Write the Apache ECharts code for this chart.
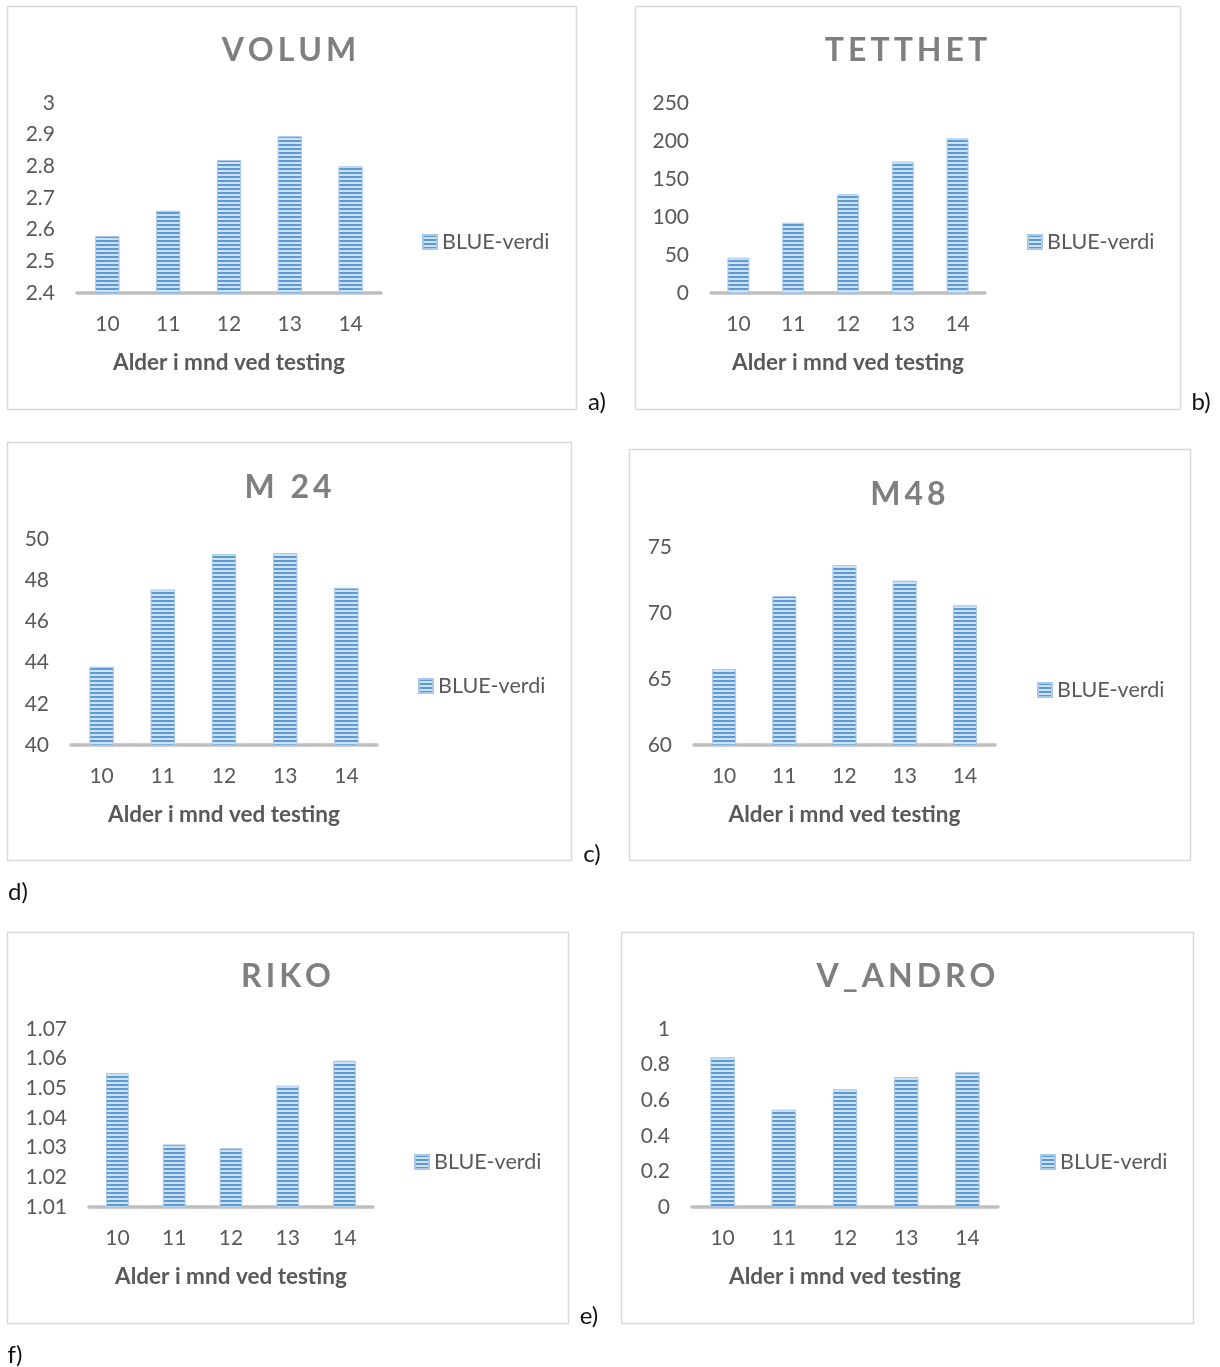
<!DOCTYPE html>
<html>
<head>
<meta charset="utf-8">
<script src="https://cdn.jsdelivr.net/npm/echarts@6/dist/echarts.min.js"></script>
<style>
  html, body { margin: 0; padding: 0; background: #ffffff; }
  #chart { width: 1220px; height: 1367px; }
</style>
</head>
<body>
<div id="chart"></div>
<script>
// Age at testing (months)
const categories = ['10', '11', '12', '13', '14'];

// BLUE values per measure
const volum  = [2.58, 2.66, 2.82, 2.895, 2.80];
const tetthet = [46.5, 92.5, 130, 173, 203.5];
const m24    = [43.8, 47.55, 49.27, 49.32, 47.63];
const m48    = [65.76, 71.29, 73.64, 72.45, 70.58];
const riko   = [1.0552, 1.0311, 1.0298, 1.0509, 1.0593];
const vAndro = [0.841, 0.547, 0.661, 0.730, 0.757];

// Value-axis ticks: [min, max, interval]
const volumTicks  = [2.4, 3, 0.1];
const tetthetTicks = [0, 250, 50];
const m24Ticks    = [40, 50, 2];
const m48Ticks    = [60, 75, 5];
const rikoTicks   = [1.01, 1.07, 0.01];
const vAndroTicks = [0, 1, 0.2];

const titles = ['VOLUM', 'TETTHET', 'M 24', 'M48', 'RIKO', 'V_ANDRO'];
const panelTags = ['a)', 'b)', 'c)', 'd)', 'e)', 'f)'];
const seriesName = 'BLUE-verdi';
const xAxisName = 'Alder i mnd ved testing';

// Horizontal stripe fill for the bars
function stripePattern() {
  const c = document.createElement('canvas');
  c.width = 4; c.height = 4;
  const ctx = c.getContext('2d');
  ctx.fillStyle = '#cfe1f3';
  ctx.fillRect(0, 0, 4, 4);
  ctx.fillStyle = '#5b9bd5';
  ctx.fillRect(0, 0, 4, 2);
  return { image: c, repeat: 'repeat' };
}
const stripes = stripePattern();

// Panel layout: frame, plot area, legend anchor, title and tag positions
const panels = [
  { data: volum,  ticks: volumTicks,  frame: [7, 6, 569, 403],   grid: [77, 103, 304, 190],  legend: [422, 241], title: [289, 51],  tag: [597, 402] },
  { data: tetthet, ticks: tetthetTicks, frame: [635, 6, 545, 403], grid: [711, 103, 274, 190], legend: [1027, 241], title: [906, 51], tag: [1201, 402] },
  { data: m24,    ticks: m24Ticks,    frame: [7, 442, 564, 418], grid: [71, 539, 306, 206],  legend: [418, 685], title: [288, 488], tag: [592, 854] },
  { data: m48,    ticks: m48Ticks,    frame: [629, 449, 561, 411], grid: [694, 547, 301, 198], legend: [1037, 689], title: [908, 495], tag: [18, 892] },
  { data: riko,   ticks: rikoTicks,   frame: [7, 932, 561, 391], grid: [89, 1029, 284, 178], legend: [414, 1161], title: [286, 977], tag: [589, 1316] },
  { data: vAndro, ticks: vAndroTicks, frame: [621, 932, 572, 391], grid: [692, 1029, 306, 178], legend: [1040, 1161], title: [906, 977], tag: [15, 1355] }
];

const FONT = 'Lato, "Open Sans", sans-serif';
const labelColor = '#595959';

const grid = [], xAxis = [], yAxis = [], series = [], legend = [], graphic = [];

panels.forEach((p, i) => {
  grid.push({ left: p.grid[0], top: p.grid[1], width: p.grid[2], height: p.grid[3], containLabel: false });
  xAxis.push({
    type: 'category', gridIndex: i, data: categories,
    axisLine: { show: true, lineStyle: { color: '#bfbfbf', width: 3.5 } },
    axisTick: { show: false },
    axisLabel: { color: labelColor, fontSize: 21, fontFamily: FONT, margin: 21 },
    name: xAxisName, nameLocation: 'middle', nameGap: 58,
    nameTextStyle: { color: labelColor, fontSize: 22.5, fontWeight: 'bold', fontFamily: FONT }
  });
  yAxis.push({
    type: 'value', gridIndex: i,
    min: p.ticks[0], max: p.ticks[1], interval: p.ticks[2],
    axisLine: { show: false }, axisTick: { show: false }, splitLine: { show: false },
    axisLabel: { color: labelColor, fontSize: 21, fontFamily: FONT, margin: 22, padding: [6, 0, 0, 0] }
  });
  series.push({
    type: 'bar', name: seriesName, xAxisIndex: i, yAxisIndex: i,
    data: p.data, barCategoryGap: '60%',
    itemStyle: { color: stripes, borderColor: '#a9c9ea', borderWidth: 1 },
    emphasis: { disabled: true }
  });
  legend.push({
    data: [seriesName], left: p.legend[0], top: p.legend[1] - 10,
    itemWidth: 14, itemHeight: 14, itemGap: 5, padding: 0,
    icon: 'rect',
    textStyle: { color: labelColor, fontSize: 21.5, fontFamily: FONT }
  });
  graphic.push({
    type: 'rect', silent: true,
    shape: { x: p.frame[0] + 0.5, y: p.frame[1] + 0.5, width: p.frame[2], height: p.frame[3] },
    style: { fill: 'none', stroke: '#d9d9d9', lineWidth: 1.5 }
  });
  graphic.push({
    type: 'text', silent: true, x: p.title[0], y: p.title[1],
    style: {
      text: titles[i].split('').join('\u2009'),
      font: 'bold 32px ' + FONT, fill: '#7f7f7f',
      textAlign: 'center', textVerticalAlign: 'middle'
    }
  });
  graphic.push({
    type: 'text', silent: true, x: p.tag[0], y: p.tag[1],
    style: {
      text: panelTags[i], font: '24px ' + FONT, fill: '#111111',
      textAlign: 'center', textVerticalAlign: 'middle'
    }
  });
});

const chart = echarts.init(document.getElementById('chart'), null, { renderer: 'canvas' });
chart.setOption({
  backgroundColor: '#ffffff',
  animation: false,
  grid, xAxis, yAxis, series, legend, graphic
});
</script>
</body>
</html>
